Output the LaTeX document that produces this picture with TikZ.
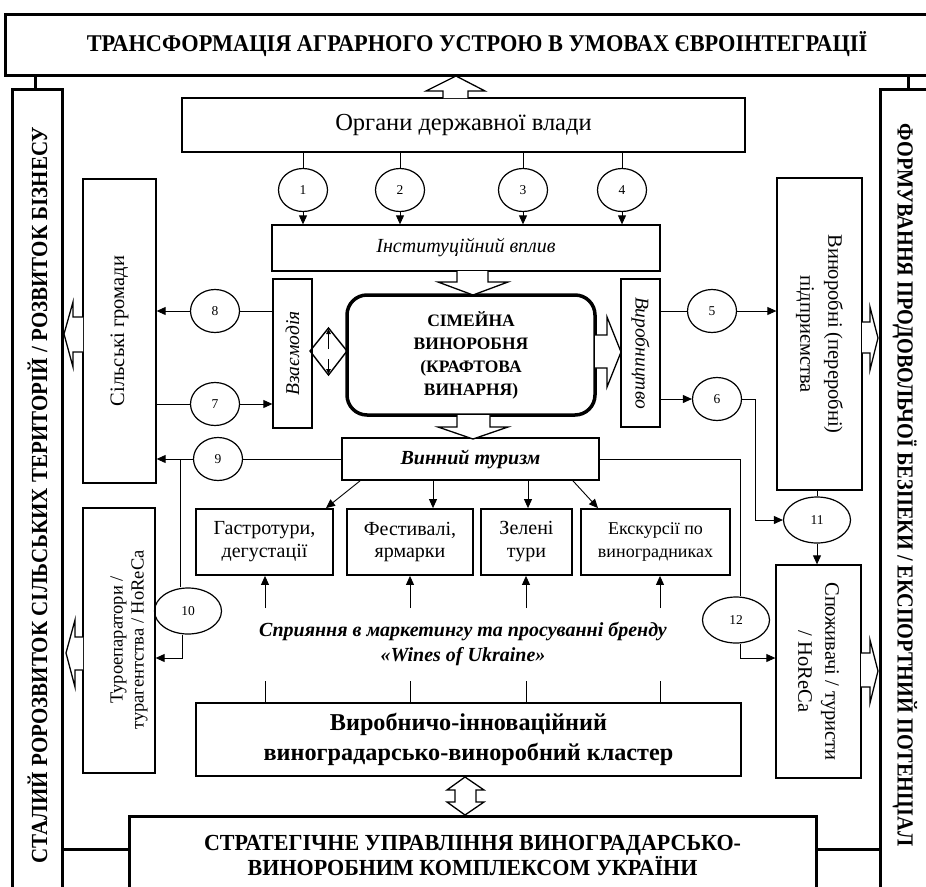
\documentclass[tikz,border=0pt]{standalone}
\usepackage{fontspec}
\setmainfont{Liberation Serif}
\usetikzlibrary{arrows.meta,shapes.geometric}
\begin{document}
\begin{tikzpicture}[x=1pt,y=-1pt,
  box/.style={draw,line width=1.3pt,inner sep=0pt,align=center},
  thickbox/.style={draw,line width=3pt,inner sep=0pt,align=center},
  actbox/.style={box,line width=1.8pt,minimum height=66pt,font=\fontsize{20}{23}\selectfont},
  num/.style={draw,ellipse,line width=1.2pt,inner sep=0pt,minimum width=49pt,minimum height=43pt,font=\fontsize{13.5}{13.5}\selectfont},
  bignum/.style={num,minimum width=67pt,minimum height=46pt},
  link/.style={line width=0.9pt},
  arr/.style={link,-{Triangle[length=9pt,width=8pt]}},
  small/.style={line width=0.9pt,-{Triangle[length=5pt,width=4.5pt]}},
  hollow/.style={line width=1.3pt,fill=white,line join=miter},
  banner/.style={font=\bfseries\fontsize{23}{25}\selectfont,align=center},
  heavy/.style={line width=3pt},
]
\useasboundingbox (0,0) rectangle (926,886);

% ---------- outer frame ----------
\node[thickbox,banner,font=\bfseries\fontsize{24}{26}\selectfont,minimum width=944pt,minimum height=61pt] (top) at (477,44.5)
  {\scalebox{0.93}[1]{ТРАНСФОРМАЦІЯ АГРАРНОГО УСТРОЮ В УМОВАХ ЄВРОІНТЕГРАЦІЇ}};
\node[thickbox,minimum width=50pt,minimum height=811pt] (lb) at (37.5,494.5) {};
\node[banner,rotate=90] (lbt) at (37.5,495)
  {\scalebox{0.914}[1]{СТАЛИЙ РОРОЗВИТОК СІЛЬСЬКИХ ТЕРИТОРІЙ / РОЗВИТОК БІЗНЕСУ}};
\node[thickbox,minimum width=51pt,minimum height=811pt] (rb) at (905.5,494.5) {};
\node[banner,rotate=-90] (rbt) at (905,485)
  {\scalebox{0.882}[1]{ФОРМУВАННЯ ПРОДОВОЛЬЧОЇ БЕЗПЕКИ / ЕКСПОРТНИЙ ПОТЕНЦІАЛ}};
\node[thickbox,banner,minimum width=687pt,minimum height=79pt] (bb) at (472.5,855.5)
  {\scalebox{0.958}[1]{СТРАТЕГІЧНЕ УПРАВЛІННЯ ВИНОГРАДАРСЬКО-}\\
   \scalebox{0.958}[1]{ВИНОРОБНИМ КОМПЛЕКСОМ УКРАЇНИ}};

\coordinate (tlx) at (35,80);
\coordinate (trx) at (908,80);
\coordinate (bly) at (100,849);
\draw[heavy] (top.south -| tlx) -- (lb.north -| tlx);
\draw[heavy] (top.south -| trx) -- (rb.north -| trx);
\draw[heavy] (lb.east |- bly) -- (bb.west |- bly);
\draw[heavy] (bb.east |- bly) -- (rb.west |- bly);

% ---------- main boxes ----------
\node[box,minimum width=563pt,minimum height=54pt,font=\fontsize{24.5}{28}\selectfont] (org) at (463.5,125) {Органи державної влади};
\node[box,minimum width=388pt,minimum height=46pt,font=\itshape\fontsize{20}{23}\selectfont] (inst) at (466,248) {Інституційний вплив};

\node[box,minimum width=39pt,minimum height=149pt] (vz) at (292.5,353.5) {};
\node[rotate=90,font=\itshape\fontsize{19.5}{23}\selectfont] (vzt) at (vz.center) {Взаємодія};

\node[draw,line width=3.5pt,rounded corners=20pt,minimum width=248pt,minimum height=120pt,
      inner sep=0pt,align=center,font=\bfseries\fontsize{17.5}{23}\selectfont] (fam) at (471,355)
  {СІМЕЙНА\\ВИНОРОБНЯ\\(КРАФТОВА\\ВИНАРНЯ)};

\node[box,minimum width=39pt,minimum height=148pt] (vy) at (640.5,353) {};
\node[rotate=-90,font=\itshape\fontsize{19.5}{23}\selectfont] (vyt) at (vy.center) {Виробництво};

\node[box,minimum width=73pt,minimum height=304pt] (sg) at (119.5,331) {};
\node[rotate=90,font=\fontsize{20.5}{24}\selectfont] (sgt) at (sg.center) {Сільські громади};

\node[box,minimum width=72pt,minimum height=265pt] (to) at (119,640.5) {};
\node[rotate=90,align=center,font=\fontsize{18.5}{21}\selectfont] (tot) at (129,640)
  {Туроепаратори /\\турагентства / HoReCa};

\node[box,minimum width=85pt,minimum height=312pt] (vn) at (819.5,334) {};
\node[rotate=-90,align=center,font=\fontsize{20.5}{28}\selectfont] (vnt) at (vn.center)
  {Виноробні (переробні)\\підприємства};

\node[box,minimum width=85pt,minimum height=213pt] (sp) at (818.5,671.5) {};
\node[rotate=-90,align=center,font=\fontsize{20.5}{27}\selectfont] (spt) at (sp.center)
  {Споживачі / туристи\\/ HoReCa};

\node[box,line width=1.8pt,minimum width=257pt,minimum height=42pt,
      font=\bfseries\itshape\fontsize{20}{24}\selectfont] (vt) at (470.5,459) {Винний туризм};

\node[actbox,minimum width=137pt] (b1) at (264.5,542) {Гастротури,\\дегустації};
\node[actbox,minimum width=126pt] (b2) at (410,542) {Фестивалі,\\ярмарки};
\node[actbox,minimum width=91pt] (b3) at (526.5,542) {Зелені\\тури};
\node[actbox,minimum width=149pt,font=\fontsize{18}{23}\selectfont] (b4) at (655.5,542) {Екскурсії по\\виноградниках};

\node[align=center,font=\bfseries\itshape\fontsize{20}{25}\selectfont] (mk) at (463,644)
  {Сприяння в маркетингу та просуванні бренду\\«Wines of Ukraine»};

\node[box,line width=2.5pt,minimum width=545pt,minimum height=73pt,
      font=\bfseries\fontsize{24.2}{30}\selectfont] (cl) at (468.5,739.5)
  {Виробничо-інноваційний\\виноградарсько-виноробний кластер};

% ---------- numbered links ----------
\foreach \i/\x in {1/303,2/400,3/523,4/622} {
  \node[num] (e\i) at (\x,190) {\i};
  \draw[link] (org.south -| e\i.north) -- (e\i.north);
  \draw[arr] (e\i.south) -- (inst.north -| e\i.south);
}
\node[num] (e8) at (215,311) {8};
\node[num] (e7) at (215,404) {7};
\node[num] (e5) at (712,311) {5};
\node[num] (e6) at (717,399) {6};
\node[num] (e9) at (218,459) {9};
\node[bignum] (e10) at (188,611) {10};
\node[bignum] (e11) at (817,520) {11};
\node[bignum] (e12) at (736,620) {12};

\draw[link] (vz.west |- e8.east) -- (e8.east);
\draw[arr] (e8.west) -- (sg.east |- e8.west);
\draw[link] (sg.east |- e7.west) -- (e7.west);
\draw[arr] (e7.east) -- (vz.west |- e7.east);
\draw[link] (vy.east |- e5.west) -- (e5.west);
\draw[arr] (e5.east) -- (vn.west |- e5.east);
\draw[arr] (vy.east |- e6.west) -- (e6.west);
\coordinate (k6) at (755,399);
\draw[arr] (e6.east) -- (k6) |- (e11.west);
\draw[link] (vn.south -| e11.north) -- (e11.north);
\draw[arr] (e11.south) -- (sp.north -| e11.south);
\draw[link] (vt.west |- e9.east) -- (e9.east);
\draw[arr] (e9.west) -- (sg.east |- e9.west);
\coordinate (j10) at (180,459);
\coordinate (k10) at (182,658);
\draw[link] (j10) -- (j10 |- e10.north);
\draw[arr] (k10 |- e10.south) -- (k10) -- (to.east |- k10);
\coordinate (j12) at (740,459);
\coordinate (k12) at (740,658);
\draw[link] (vt.east |- j12) -- (j12) -- (j12 |- e12.north);
\draw[arr] (k12 |- e12.south) -- (k12) -- (sp.west |- k12);

% ---------- tourism arrows ----------
\coordinate (t1) at (360,0); \coordinate (t1e) at (326,0);
\coordinate (t2) at (433,0);
\coordinate (t3) at (528,0);
\coordinate (t4) at (573,0); \coordinate (t4e) at (598,0);
\draw[arr] (t1 |- vt.south) -- (t1e |- b1.north);
\draw[arr] (t2 |- vt.south) -- (t2 |- b2.north);
\draw[arr] (t3 |- vt.south) -- (t3 |- b3.north);
\draw[arr] (t4 |- vt.south) -- (t4e |- b4.north);

\foreach \i/\x in {1/265,2/410,3/526,4/660} {
  \coordinate (u\i) at (\x,681);
  \coordinate (w\i) at (\x,608);
  \draw[link] (u\i |- cl.north) -- (u\i);
  \draw[arr] (w\i) -- (w\i |- b\i.south);
}

% ---------- hollow block arrows ----------
\draw[hollow] (443,98) -- (443,91) -- (426,91) -- (456,76) -- (485,91) -- (468,91) -- (468,98);
\draw[hollow] (457,271) -- (457,282) -- (438,282) -- (473,295) -- (508,282) -- (488,282) -- (488,271);
\draw[hollow] (457,415) -- (457,427) -- (438,427) -- (473,439) -- (508,427) -- (490,427) -- (490,415);
\draw[hollow] (595,335) -- (607,335) -- (607,317) -- (621,352) -- (607,387) -- (607,368) -- (595,368);
\draw[hollow] (83,317) -- (73,317) -- (73,302) -- (64,334) -- (73,367) -- (73,352) -- (83,352);
\draw[hollow] (83,637) -- (75,637) -- (75,620) -- (66,653) -- (75,687) -- (75,670) -- (83,670);
\draw[hollow] (862,322) -- (870,322) -- (870,307) -- (878,338) -- (870,370) -- (870,353) -- (862,353);
\draw[hollow] (861,653) -- (870,653) -- (870,640) -- (878,671) -- (870,703) -- (870,687) -- (861,687);
\draw[hollow] (465,777) -- (484,790) -- (476,790) -- (476,802) -- (484,802) -- (465,815)
  -- (447,802) -- (455,802) -- (455,790) -- (447,790) -- cycle;

% diamond between interaction and winery
\draw[line width=1.4pt,line join=miter] (310,351) -- (328.5,328) -- (347,351) -- (328.5,375) -- cycle;
\draw[small] (328.5,349) -- (328.5,329);
\draw[small] (328.5,359) -- (328.5,374);
\end{tikzpicture}
\end{document}
